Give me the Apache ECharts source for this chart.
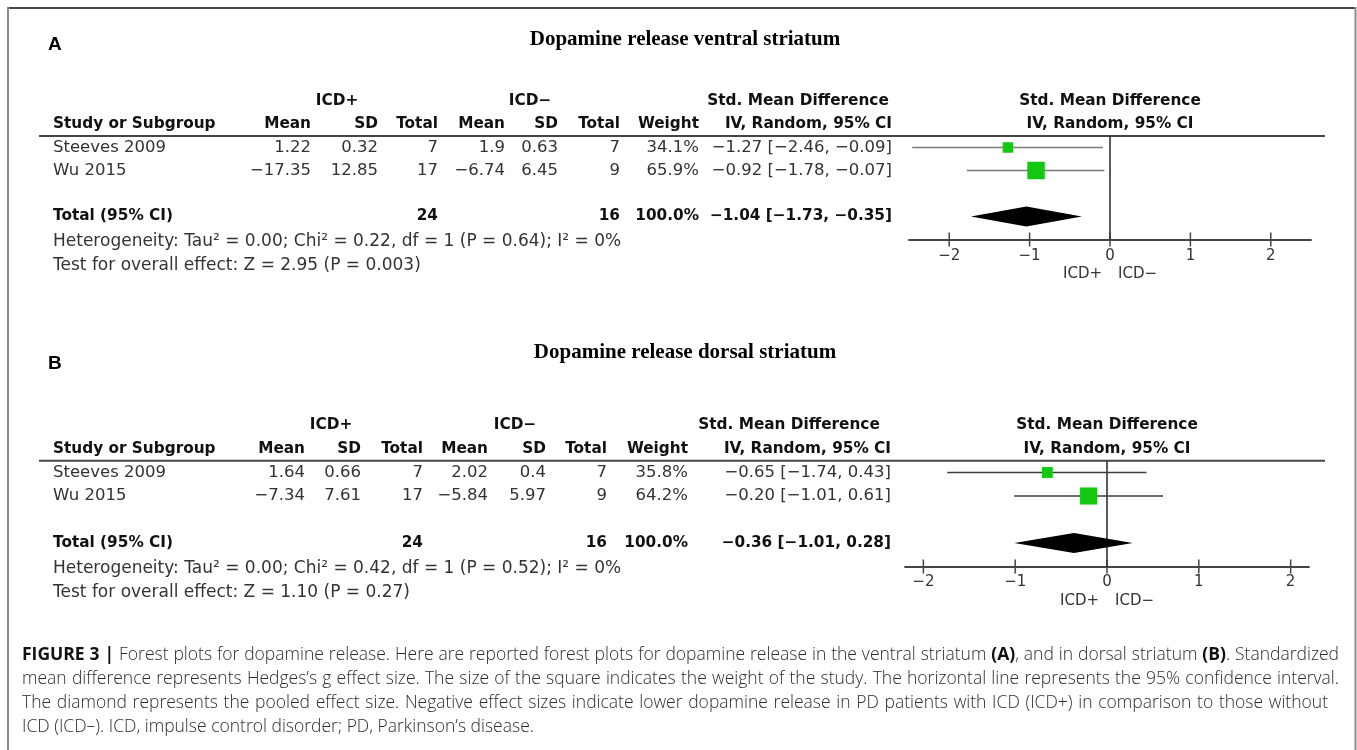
<!DOCTYPE html>
<html><head><meta charset="utf-8">
<script src="https://cdn.jsdelivr.net/npm/echarts@6/dist/echarts.min.js"></script>
<style>html,body{margin:0;padding:0;background:#fff}#c{width:1357px;height:750px}</style>
</head><body><div id="c"></div>
<script>
// ---------------- DATA ----------------
const studies = ['Steeves 2009', 'Wu 2015'];
const tickValues = [-2, -1, 0, 1, 2];
const groupLabels = ['ICD+', 'ICD\u2212'];

// Panel A: ventral striatum
const aTitle = 'Dopamine release ventral striatum';
const aPlusMean = [1.22, -17.35];
const aPlusSD = [0.32, 12.85];
const aPlusN = [7, 17];
const aMinusMean = [1.9, -6.74];
const aMinusSD = [0.63, 6.45];
const aMinusN = [7, 9];
const aWeight = [34.1, 65.9];
const aSMD = [-1.27, -0.92];
const aLo = [-2.46, -1.78];
const aHi = [-0.09, -0.07];
const aTotal = [24, 16, 100.0];          // ICD+ total, ICD- total, weight
const aPooled = [-1.04, -1.73, -0.35];   // estimate, lower, upper
const aHet = [0.00, 0.22, 1, 0.64, 0];   // Tau2, Chi2, df, P, I2
const aOverall = ['2.95', '0.003'];      // Z, P

// Panel B: dorsal striatum
const bTitle = 'Dopamine release dorsal striatum';
const bPlusMean = [1.64, -7.34];
const bPlusSD = [0.66, 7.61];
const bPlusN = [7, 17];
const bMinusMean = [2.02, -5.84];
const bMinusSD = [0.4, 5.97];
const bMinusN = [7, 9];
const bWeight = [35.8, 64.2];
const bSMD = [-0.65, -0.20];
const bLo = [-1.74, -1.01];
const bHi = [0.43, 0.61];
const bTotal = [24, 16, 100.0];
const bPooled = [-0.36, -1.01, 0.28];
const bHet = [0.00, 0.42, 1, 0.52, 0];
const bOverall = ['1.10', '0.27'];

const captionLines = [
  '**FIGURE** **3** **|** Forest plots for dopamine release. Here are reported forest plots for dopamine release in the ventral striatum **(A)**, and in dorsal striatum **(B)**. Standardized',
  'mean difference represents Hedges\u2019s g effect size. The size of the square indicates the weight of the study. The horizontal line represents the 95% confidence interval.',
  'The diamond represents the pooled effect size. Negative effect sizes indicate lower dopamine release in PD patients with ICD (ICD+) in comparison to those without',
  'ICD (ICD\u2013). ICD, impulse control disorder; PD, Parkinson\u2019s disease.'
];

// ---------------- LAYOUT ----------------
const panels = [
  { letter: 'A', title: aTitle, letterY: 45, titleY: 40, top0: 124.5, rowH: 23,
    cols: [311, 378, 438, 505, 558, 620, 699, 892], plusHdr: 337, minusHdr: 530, smdHdr: 798, plotHdr: 1110,
    gridLeft: 909, gridW: 402, xMin: -2.5, xMax: 2.5, ciColor: '#7a7a7a', labelMargin: 9,
    plusMean: aPlusMean, plusSD: aPlusSD, plusN: aPlusN, minusMean: aMinusMean, minusSD: aMinusSD, minusN: aMinusN,
    weight: aWeight, smd: aSMD, lo: aLo, hi: aHi, total: aTotal, pooled: aPooled, het: aHet, overall: aOverall },
  { letter: 'B', title: bTitle, letterY: 364, titleY: 353, top0: 449, rowH: 23.5,
    cols: [305, 361, 423, 488, 546, 607, 688, 891], plusHdr: 331, minusHdr: 515, smdHdr: 789, plotHdr: 1107,
    gridLeft: 905, gridW: 404, xMin: -2.2, xMax: 2.2, ciColor: '#3c3c3c', labelMargin: 8,
    plusMean: bPlusMean, plusSD: bPlusSD, plusN: bPlusN, minusMean: bMinusMean, minusSD: bMinusSD, minusN: bMinusN,
    weight: bWeight, smd: bSMD, lo: bLo, hi: bHi, total: bTotal, pooled: bPooled, het: bHet, overall: bOverall }
];
const studyRows = [1, 2];
const totalRow = 4;

const FONT_REG = '16.5px "DejaVu Sans"';
const FONT_NOTE = '17px "DejaVu Sans"';
const FONT_BOLD = 'bold 15.3px "DejaVu Sans"';
const mn = s => String(s).replace(/-/g, '\u2212');
const f2 = v => mn(v.toFixed(2));
const ci = (e, l, h) => f2(e) + ' [' + f2(l) + ', ' + f2(h) + ']';

const graphics = [];
function T(text, x, y, font, align, fill) {
  graphics.push({ type: 'text', x: x, y: y, silent: true,
    style: { text: text, font: font, fill: fill || '#2a2a2a', align: align || 'left', verticalAlign: 'middle' } });
}
function L(x1, y1, x2, y2, color, w) {
  graphics.push({ type: 'line', silent: true, shape: { x1, y1, x2, y2 }, style: { stroke: color, lineWidth: w } });
}

// frame
L(8, 8, 1356, 8, '#4a4a4a', 2);
L(8, 7, 8, 750, '#8a8a8a', 2);
L(1355.5, 7, 1355.5, 750, '#8a8a8a', 2);

panels.forEach(p => {
  const ry = r => p.top0 + r * p.rowH;
  T(p.letter, 48, p.letterY, 'bold 19px "Liberation Sans"', 'left', '#000');
  T(p.title, 685, p.titleY, 'bold 21px "Liberation Serif"', 'center', '#000');
  // header row 1
  T(groupLabels[0], p.plusHdr, ry(-1), FONT_BOLD, 'center', '#111');
  T(groupLabels[1], p.minusHdr, ry(-1), FONT_BOLD, 'center', '#111');
  T('Std. Mean Difference', p.smdHdr, ry(-1), FONT_BOLD, 'center', '#111');
  T('Std. Mean Difference', p.plotHdr, ry(-1), FONT_BOLD, 'center', '#111');
  // header row 2
  T('Study or Subgroup', 53, ry(0), FONT_BOLD, 'left', '#111');
  const hdr = ['Mean', 'SD', 'Total', 'Mean', 'SD', 'Total', 'Weight', 'IV, Random, 95% CI'];
  hdr.forEach((h, i) => T(h, p.cols[i], ry(0), FONT_BOLD, 'right', '#111'));
  T('IV, Random, 95% CI', p.plotHdr, ry(0), FONT_BOLD, 'center', '#111');
  L(39, ry(0.5), 1325, ry(0.5), '#454545', 2.2);
  // study rows
  studies.forEach((s, i) => {
    const y = ry(studyRows[i]);
    T(s, 53, y, FONT_REG, 'left', '#333');
    const vals = [mn(p.plusMean[i]), mn(p.plusSD[i]), String(p.plusN[i]), mn(p.minusMean[i]), mn(p.minusSD[i]),
      String(p.minusN[i]), p.weight[i].toFixed(1) + '%', ci(p.smd[i], p.lo[i], p.hi[i])];
    vals.forEach((v, j) => T(v, p.cols[j], y, FONT_REG, 'right', '#333'));
  });
  // total row
  const yt = ry(totalRow);
  T('Total (95% CI)', 53, yt, FONT_BOLD, 'left', '#111');
  T(String(p.total[0]), p.cols[2], yt, FONT_BOLD, 'right', '#111');
  T(String(p.total[1]), p.cols[5], yt, FONT_BOLD, 'right', '#111');
  T(p.total[2].toFixed(1) + '%', p.cols[6], yt, FONT_BOLD, 'right', '#111');
  T(ci(p.pooled[0], p.pooled[1], p.pooled[2]), p.cols[7], yt, FONT_BOLD, 'right', '#111');
  // heterogeneity / overall
  const yh = ry(5) + 2.5;
  T('Heterogeneity: Tau\u00b2 = ' + p.het[0].toFixed(2) + '; Chi\u00b2 = ' + p.het[1].toFixed(2) + ', df = ' + p.het[2] +
    ' (P = ' + p.het[3].toFixed(2) + '); I\u00b2 = ' + p.het[4] + '%', 53, yh, FONT_NOTE, 'left', '#333');
  T('Test for overall effect: Z = ' + p.overall[0] + ' (P = ' + p.overall[1] + ')', 53, yh + 24, FONT_NOTE, 'left', '#333');
  // favours labels
  const x0 = p.gridLeft + (0 - p.xMin) / (p.xMax - p.xMin) * p.gridW;
  const yf = ry(5) + 35;
  T(groupLabels[0], x0 - 8, yf, '15px "DejaVu Sans"', 'right', '#333');
  T(groupLabels[1], x0 + 8, yf, '15px "DejaVu Sans"', 'left', '#333');
});

// caption (justified)
const capCtx = document.createElement('canvas').getContext('2d');
const CAP_N = '300 17.5px "Open Sans"', CAP_B = '700 17.5px "Open Sans"';
const capX = 22, capYs = [655, 679, 703, 727], capW = [1317, 1317, 1306, 0];
captionLines.forEach((line, li) => {
  const words = line.split(' ').map(w => w.split('**').map((t, k) => ({ t, b: k % 2 === 1 })).filter(s => s.t.length));
  const ww = words.map(segs => segs.reduce((a, s) => { capCtx.font = s.b ? CAP_B : CAP_N; return a + capCtx.measureText(s.t).width; }, 0));
  const sum = ww.reduce((a, b) => a + b, 0);
  capCtx.font = CAP_N;
  const gap = capW[li] ? (capW[li] - sum) / (words.length - 1) : capCtx.measureText(' ').width;
  let x = capX;
  words.forEach((segs) => {
    segs.forEach(s => {
      capCtx.font = s.b ? CAP_B : CAP_N;
      T(s.t, x, capYs[li], s.b ? CAP_B : CAP_N, 'left', s.b ? '#111' : '#2d2d2d');
      x += capCtx.measureText(s.t).width;
    });
    x += gap;
  });
});

// ---------------- CHART ----------------
const grids = [], xAxes = [], yAxes = [], series = [];
panels.forEach((p, gi) => {
  grids.push({ left: p.gridLeft, top: p.top0, width: p.gridW, height: 5 * p.rowH });
  xAxes.push({ type: 'value', gridIndex: gi, min: p.xMin, max: p.xMax, position: 'bottom', splitLine: { show: false },
    axisLine: { show: true, onZero: false, lineStyle: { color: '#444', width: 1.8 } },
    axisTick: { show: false },
    axisLabel: { show: true, margin: p.labelMargin, customValues: tickValues, formatter: v => mn(v), fontFamily: 'DejaVu Sans', fontSize: 15, color: '#333' }
  });
  yAxes.push({ type: 'value', gridIndex: gi, min: 0, max: 5, inverse: true, show: false, splitLine: { show: false } });
  const xi = gi, yi = gi;
  // ticks crossing the axis line
  series.push({ type: 'custom', xAxisIndex: xi, yAxisIndex: yi, silent: true, z: 1, clip: false,
    data: tickValues.map(t => [t, 5]),
    renderItem: (params, api) => {
      const a = api.coord([api.value(0), api.value(1)]);
      return { type: 'line', shape: { x1: a[0], y1: a[1] - 7, x2: a[0], y2: a[1] + 7 }, style: { stroke: '#444', lineWidth: 1.5 } };
    } });
  // zero line
  series.push({ type: 'custom', xAxisIndex: xi, yAxisIndex: yi, silent: true, z: 1, clip: false,
    data: [[0, 0.5, 5]],
    renderItem: (params, api) => {
      const a = api.coord([api.value(0), api.value(1)]), b = api.coord([api.value(0), api.value(2)]);
      return { type: 'line', shape: { x1: a[0], y1: a[1], x2: b[0], y2: b[1] }, style: { stroke: '#333', lineWidth: 1.6 } };
    } });
  // CI lines
  series.push({ type: 'custom', xAxisIndex: xi, yAxisIndex: yi, silent: true, z: 2, clip: false,
    data: p.lo.map((l, i) => [l, p.hi[i], studyRows[i]]),
    renderItem: (params, api) => {
      const a = api.coord([api.value(0), api.value(2)]), b = api.coord([api.value(1), api.value(2)]);
      return { type: 'line', shape: { x1: a[0], y1: a[1], x2: b[0], y2: b[1] }, style: { stroke: p.ciColor, lineWidth: 1.6 } };
    } });
  // squares
  series.push({ type: 'scatter', xAxisIndex: xi, yAxisIndex: yi, silent: true, z: 3, symbol: 'rect',
    data: p.smd.map((v, i) => [v, studyRows[i]]),
    symbolSize: (val, params) => 3 + 0.22 * p.weight[params.dataIndex],
    itemStyle: { color: '#12c812', opacity: 1 } });
  // diamond
  series.push({ type: 'custom', xAxisIndex: xi, yAxisIndex: yi, silent: true, z: 4, clip: false,
    data: [[p.pooled[1], p.pooled[0], p.pooled[2], totalRow]],
    renderItem: (params, api) => {
      const y = api.value(3);
      const l = api.coord([api.value(0), y]), c = api.coord([api.value(1), y]), r = api.coord([api.value(2), y]);
      const h = 10;
      return { type: 'polygon', shape: { points: [[l[0], l[1]], [c[0], c[1] - h], [r[0], r[1]], [c[0], c[1] + h]] }, style: { fill: '#000' } };
    } });
});

const chart = echarts.init(document.getElementById('c'), null, { renderer: 'canvas' });
chart.setOption({
  animation: false,
  backgroundColor: '#fff',
  grid: grids, xAxis: xAxes, yAxis: yAxes, series: series,
  graphic: { elements: graphics }
});
</script>
</body></html>
